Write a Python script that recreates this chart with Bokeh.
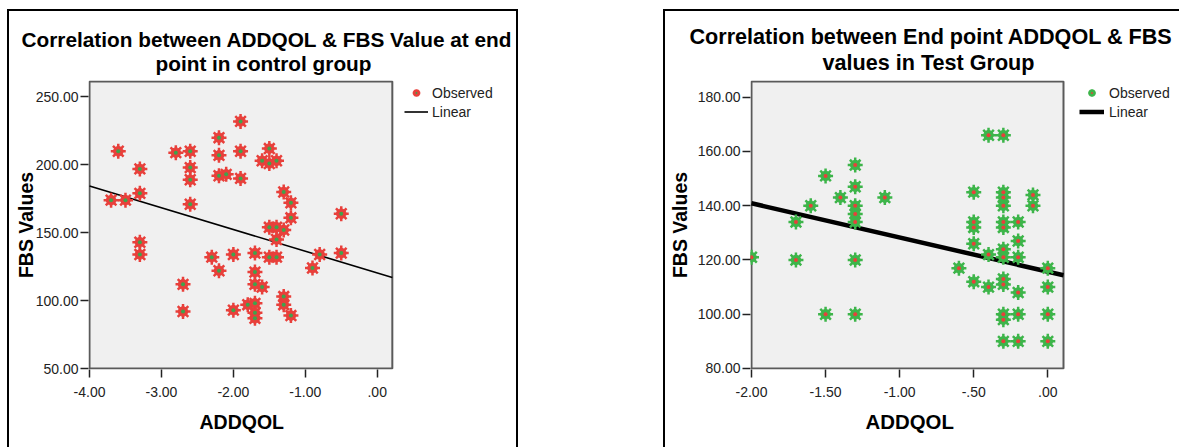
from bokeh.plotting import figure
from bokeh.models import (Range1d, FixedTicker, Legend, LegendItem, Title,
                          ColumnDataSource)
from bokeh.layouts import row
from bokeh.embed import file_html
from bokeh.resources import INLINE

# ---------------- data ----------------
left_title_1 = "Correlation between ADDQOL & FBS Value at end"
left_title_2 = "point in control group"
left_addqol = [-3.6, -3.7, -3.5, -3.3, -3.3, -3.3, -3.3, -2.8, -2.6, -2.6,
               -2.6, -2.6, -2.7, -2.7, -2.3, -2.2, -2.2, -2.2, -2.1, -2.2,
               -2.0, -2.0, -1.9, -1.9, -1.9, -1.8, -1.7, -1.7, -1.7, -1.7,
               -1.7, -1.7, -1.6, -1.6, -1.5, -1.5, -1.4, -1.5, -1.4, -1.3,
               -1.4, -1.5, -1.4, -1.3, -1.2, -1.2, -1.3, -1.3, -1.2, -0.9,
               -0.8, -0.5, -0.5]
left_fbs = [210, 174, 174, 197, 179, 143, 134, 209, 210, 198,
            189, 171, 112, 92, 132, 220, 207, 192, 193, 122,
            134, 93, 232, 210, 190, 97, 135, 121, 112, 98,
            91, 87, 110, 203, 212, 201, 203, 154, 154, 152,
            145, 132, 132, 180, 172, 161, 103, 97, 89, 124,
            134, 164, 135]
left_fit_intercept = 120.4
left_fit_slope = -16.0
left_x_range = (-4.0, 0.21)
left_y_range = (50.0, 261.4)
left_x_ticks = [-4, -3, -2, -1, 0]
left_x_labels = ["-4.00", "-3.00", "-2.00", "-1.00", ".00"]
left_y_ticks = [50, 100, 150, 200, 250]
left_y_labels = ["50.00", "100.00", "150.00", "200.00", "250.00"]

right_title_1 = "Correlation between End point ADDQOL & FBS"
right_title_2 = "values in Test Group"
right_addqol = [-2.0, -1.7, -1.7, -1.6, -1.5, -1.5, -1.4,
                -1.3, -1.3, -1.3, -1.3, -1.3, -1.3, -1.3,
                -1.1, -0.6,
                -0.5, -0.5, -0.5, -0.5, -0.5,
                -0.4, -0.4, -0.4,
                -0.3, -0.3, -0.3, -0.3, -0.3, -0.3, -0.3, -0.3, -0.3, -0.3, -0.3, -0.3, -0.3,
                -0.2, -0.2, -0.2, -0.2, -0.2, -0.2,
                -0.1, -0.1,
                0.0, 0.0, 0.0, 0.0]
right_fbs = [121, 134, 120, 140, 151, 100, 143,
             155, 147, 140, 137, 134, 120, 100,
             143, 117,
             145, 134, 132, 126, 112,
             166, 122, 110,
             166, 145, 143, 140, 134, 132, 124, 121, 113, 111, 100, 98, 90,
             134, 127, 121, 108, 100, 90,
             144, 140,
             117, 110, 100, 90]
right_fit_intercept = 115.7
right_fit_slope = -12.6
right_x_range = (-2.0, 0.106)
right_y_range = (80.0, 185.8)
right_x_ticks = [-2.0, -1.5, -1.0, -0.5, 0.0]
right_x_labels = ["-2.00", "-1.50", "-1.00", "-.50", ".00"]
right_y_ticks = [80, 100, 120, 140, 160, 180]
right_y_labels = ["80.00", "100.00", "120.00", "140.00", "160.00", "180.00"]

x_axis_label = "ADDQOL"
y_axis_label = "FBS Values"
legend_labels = ["Observed", "Linear"]

FONT = "Liberation Sans"


def make_panel(xs, ys, intercept, slope, xr, yr, xt, xl, yt, yl, t1, t2,
               outer, inner, fit_width, styles, bw, canvas, box, frame_right,
               legend_dx, legend_top, glyph_w, standoff, ylab_standoff, t_offsets,
               t_size, xlab_size, xlab_offset):
    cw, ch = canvas                      # drawing area inside the css borders
    bl, bt, br, bb = box                 # plot box (canvas px)
    fl, ft, fb = bl - 1, bt - 1, bb + 1  # frame is 1px larger than the plot box
    fr = frame_right                     # frame extends right to hold the legend
    xpu = (br - bl) / (xr[1] - xr[0])
    ypu = (bb - bt) / (yr[1] - yr[0])
    x0 = xr[0] - 1 / xpu
    y0 = yr[0] - 1 / ypu
    p = figure(width=cw + bw[0] + bw[1], height=ch + bw[2], output_backend="svg",
               toolbar_location=None,
               x_range=Range1d(x0, x0 + (fr - fl) / xpu),
               y_range=Range1d(y0, y0 + (fb - ft) / ypu), title=t1,
               min_border_left=fl, min_border_right=cw - fr,
               min_border_top=ft, min_border_bottom=ch - fb)
    p.background_fill_color = "white"
    p.border_fill_color = "white"
    p.outline_line_color = None
    p.grid.visible = False
    p.styles = styles

    # titles: p.title (line 1) outermost, line 2 next to the frame
    p.title.align = "left"
    p.title.offset = t_offsets[0]
    p.title.text_font = FONT
    p.title.text_font_size = t_size
    p.title.text_font_style = "bold"
    p.title.text_color = "black"
    p.title.standoff = -14
    p.add_layout(Title(text=t2, align="left", offset=t_offsets[1], text_font=FONT,
                       text_font_size=t_size, text_font_style="bold",
                       text_color="black", standoff=12), "above")

    # axes
    p.xaxis.ticker = FixedTicker(ticks=xt, minor_ticks=[])
    p.yaxis.ticker = FixedTicker(ticks=yt, minor_ticks=[])
    p.xaxis.bounds = xr
    p.yaxis.bounds = yr
    p.xaxis.major_label_overrides = {t: l for t, l in zip(xt, xl)}
    p.yaxis.major_label_overrides = {t: l for t, l in zip(yt, yl)}
    p.yaxis.axis_label = y_axis_label
    for ax in (p.xaxis[0], p.yaxis[0]):
        ax.major_tick_out = 8
        ax.major_tick_in = 0
        ax.major_tick_line_color = "#222222"
        ax.major_tick_line_width = 1.5
        ax.axis_line_color = None
        ax.major_label_text_font = FONT
        ax.major_label_text_font_size = "14px"
        ax.major_label_text_color = "#222222"
        ax.axis_label_text_font = FONT
        ax.axis_label_text_font_size = "19.5px"
        ax.axis_label_text_font_style = "bold"
        ax.axis_label_text_color = "black"
    p.xaxis.major_label_standoff = 9
    p.yaxis.major_label_standoff = 2
    p.yaxis.axis_label_standoff = ylab_standoff

    # x axis title, centred under the plot box (not the wider frame)
    p.add_layout(Title(text=x_axis_label, align="left", offset=xlab_offset,
                       text_font=FONT, text_font_size=xlab_size,
                       text_font_style="bold", text_color="black",
                       standoff=19), "below")

    # grey plot box
    p.quad(left=[xr[0]], right=[xr[1]], bottom=[yr[0]], top=[yr[1]],
           fill_color="#F0F0F0", line_color="#5a5a5a", line_width=2)

    # fit line
    fx = [xr[0], xr[1]]
    fy = [intercept + slope * v for v in fx]
    line = p.line(fx, fy, line_color="black", line_width=fit_width)

    src = ColumnDataSource(dict(x=xs, y=ys))
    star = p.scatter("x", "y", source=src, marker="asterisk", size=15,
                     line_color=outer, line_width=2.5)
    p.scatter("x", "y", source=src, marker="circle", size=9.5,
              fill_color=outer, line_color=outer)
    dot = p.scatter("x", "y", source=src, marker="dot", size=16,
                    line_color=inner, fill_color=inner)

    lh = 19
    legend = Legend(items=[LegendItem(label=legend_labels[0], renderers=[star, dot]),
                           LegendItem(label=legend_labels[1], renderers=[line])],
                    location=(legend_dx, (fb - ft) - legend_top - 2 * lh),
                    margin=0, padding=0, spacing=0,
                    label_height=lh, glyph_height=lh, glyph_width=glyph_w,
                    label_standoff=standoff, label_text_font=FONT,
                    label_text_font_size="14px", label_text_color="#222222",
                    background_fill_alpha=0, border_line_alpha=0)
    p.add_layout(legend)
    return p


p1 = make_panel(left_addqol, left_fbs, left_fit_intercept, left_fit_slope,
                left_x_range, left_y_range, left_x_ticks, left_x_labels,
                left_y_ticks, left_y_labels, left_title_1, left_title_2,
                "#E8403B", "#3FA34D", 1.6,
                {"border-left": "2px solid black", "border-right": "2px solid black",
                 "border-top": "2px solid black", "box-sizing": "border-box",
                 "transform": "translate(7px, 9px)"},
                (2, 2, 2), (507, 436), (80, 70, 380, 360), 505,
                316, 6, 24, 4, -4, (-67, 67), "20.8px", "19.5px", 111)

p2 = make_panel(right_addqol, right_fbs, right_fit_intercept, right_fit_slope,
                right_x_range, right_y_range, right_x_ticks, right_x_labels,
                right_y_ticks, right_y_labels, right_title_1, right_title_2,
                "#3DB54A", "#E8403B", 4.5,
                {"border-left": "2px solid black", "border-top": "2px solid black",
                 "box-sizing": "border-box", "transform": "translate(7px, 9px)"},
                (2, 0, 2), (514, 436), (84, 70, 396, 355), 512,
                329, 1, 25, 5, 4, (-61, 72), "21.6px", "20.4px", 115)

layout = row(p1, p2, spacing=145)
open("out.html", "w").write(file_html(layout, INLINE))
